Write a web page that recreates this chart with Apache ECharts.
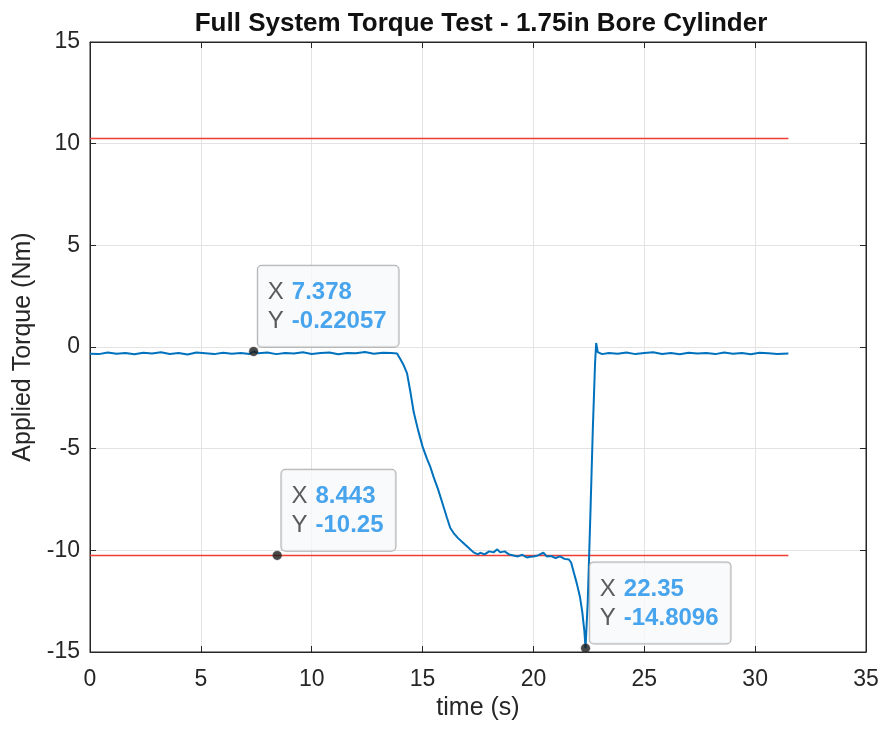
<!DOCTYPE html>
<html><head><meta charset="utf-8">
<script src="https://cdn.jsdelivr.net/npm/echarts@6/dist/echarts.min.js"></script>
<style>html,body{margin:0;padding:0;background:#fff}#c{width:884px;height:730px}</style>
</head><body><div id="c"></div>
<script>
const titleText = 'Full System Torque Test - 1.75in Bore Cylinder';
const xName = 'time (s)';
const yName = 'Applied Torque (Nm)';
const xTicks = [0, 5, 10, 15, 20, 25, 30, 35];
const yTicks = [-15, -10, -5, 0, 5, 10, 15];

const timeS = [
 0,0.4,0.8,1.2,1.6,2.0,2.4,2.8,3.2,3.6,4.0,4.4,4.8,5.2,5.6,6.0,6.4,6.8,7.2,7.378,7.6,8.0,8.4,8.8,9.2,9.6,10.0,10.4,10.8,11.2,11.6,12.0,12.4,12.8,13.2,13.6,13.85,
 14.0,14.15,14.3,14.45,14.6,14.8,15.0,15.2,15.35,15.5,15.7,15.9,16.1,16.25,16.4,16.6,16.85,17.05,17.3,17.5,17.6,17.8,18.0,18.2,18.37,18.5,18.7,18.9,19.1,19.3,19.5,19.7,19.86,20.0,20.2,20.45,20.6,20.8,21.0,21.2,21.4,21.6,21.7,21.8,21.95,22.1,22.2,22.3,22.35,
 22.45,22.57,22.68,22.78,22.83,22.9,23.1,23.4,23.8,24.2,24.6,25.0,25.4,25.8,26.2,26.6,27.0,27.4,27.8,28.2,28.6,29.0,29.4,29.8,30.2,30.6,31.0,31.5
];
const torqueNm = [
 -0.33,-0.35,-0.27,-0.33,-0.29,-0.36,-0.28,-0.32,-0.26,-0.34,-0.30,-0.37,-0.27,-0.31,-0.35,-0.28,-0.33,-0.29,-0.34,-0.22057,-0.31,-0.27,-0.35,-0.29,-0.32,-0.26,-0.34,-0.30,-0.27,-0.36,-0.29,-0.31,-0.25,-0.33,-0.28,-0.30,-0.32,
 -0.6,-0.9,-1.3,-2.2,-3.2,-4.1,-4.9,-5.5,-5.9,-6.4,-7.0,-7.7,-8.4,-8.9,-9.15,-9.4,-9.65,-9.85,-10.1,-10.2,-10.12,-10.2,-10.05,-10.1,-9.95,-10.1,-10.05,-10.2,-10.25,-10.3,-10.22,-10.35,-10.32,-10.3,-10.25,-10.12,-10.3,-10.28,-10.38,-10.3,-10.42,-10.45,-10.6,-11.0,-11.6,-12.3,-13.0,-14.0,-14.8096,
 -12.5,-8.2,-4.0,-0.8,0.2,-0.25,-0.35,-0.29,-0.33,-0.27,-0.35,-0.30,-0.26,-0.34,-0.29,-0.36,-0.28,-0.32,-0.30,-0.35,-0.27,-0.33,-0.29,-0.36,-0.28,-0.31,-0.34,-0.32
];
const limitLevels = [10.25, -10.25];
const limitSpan = [0, 31.5];
const tipX = [7.378, 8.443, 22.35];
const tipY = [-0.22057, -10.25, -14.8096];
const tipXText = ['7.378', '8.443', '22.35'];
const tipYText = ['-0.22057', '-10.25', '-14.8096'];

const font = '"Liberation Sans", Arial, Helvetica, sans-serif';
const axisColor = '#262626';
const chart = echarts.init(document.getElementById('c'));

const mainData = timeS.map((t, i) => [t, torqueNm[i]]);
const limitSeries = limitLevels.map(v => ({
  type: 'line', data: limitSpan.map(t => [t, v]), symbol: 'none', silent: true,
  lineStyle: { color: '#ee3b33', width: 1.5 }, z: 3, animation: false
}));
const tickStyle = { inside: true, length: 6, lineStyle: { color: axisColor } };
const lineStyleAxis = { show: true, onZero: false, lineStyle: { color: axisColor, width: 1 } };

chart.setOption({
  animation: false,
  title: { text: titleText, left: 476, textAlign: 'center', top: 6,
    textStyle: { fontFamily: font, fontSize: 26, fontWeight: 'bold', color: '#111' } },
  grid: { left: 90, right: 18, top: 42, bottom: 78, show: true, borderColor: axisColor, borderWidth: 1, backgroundColor: '#fff' },
  xAxis: [{
    type: 'value', min: 0, max: 35, interval: 5, name: xName, nameLocation: 'middle', nameGap: 44,
    nameTextStyle: { fontFamily: font, fontSize: 25, color: axisColor },
    axisLine: lineStyleAxis,
    axisTick: tickStyle,
    axisLabel: { fontFamily: font, fontSize: 23, color: axisColor, margin: 16,
      formatter: v => xTicks.includes(v) ? String(v) : '' },
    splitLine: { lineStyle: { color: '#e3e3e3' } }
  }, {
    type: 'value', min: 0, max: 35, interval: 5, position: 'top',
    axisLine: lineStyleAxis,
    axisTick: tickStyle,
    axisLabel: { show: false }, splitLine: { show: false }
  }],
  yAxis: [{
    type: 'value', min: -15, max: 15, interval: 5, name: yName, nameLocation: 'middle', nameGap: 52,
    nameTextStyle: { fontFamily: font, fontSize: 25, color: axisColor },
    axisLine: lineStyleAxis,
    axisTick: Object.assign({ show: true }, tickStyle),
    axisLabel: { fontFamily: font, fontSize: 23, color: axisColor, margin: 10,
      formatter: v => yTicks.includes(v) ? String(v) : '' },
    splitLine: { lineStyle: { color: '#e3e3e3' } }
  }, {
    type: 'value', min: -15, max: 15, interval: 5, position: 'right',
    axisLine: lineStyleAxis,
    axisTick: Object.assign({ show: true }, tickStyle),
    axisLabel: { show: false }, splitLine: { show: false }
  }],
  series: [
    ...limitSeries,
    { type: 'line', data: mainData, symbol: 'none', z: 4,
      lineStyle: { color: '#0072BD', width: 2 } },
    { type: 'scatter', z: 10, symbolSize: 9,
      itemStyle: { color: '#1a1a1a', borderColor: '#555', borderWidth: 0.5 },
      data: tipX.map((x, i) => ({ value: [x, tipY[i]],
        label: { show: true, position: [9, 0], align: 'left', verticalAlign: 'bottom',
          formatter: '{l|X}{v|' + tipXText[i] + '}\n{l|Y}{v|' + tipYText[i] + '}',
          backgroundColor: '#f8f9fb', borderColor: '#9a9a9a', borderWidth: 1, borderRadius: 4,
          padding: [12, 12, 11, 10],
          rich: {
            l: { fontFamily: font, fontSize: 24, color: '#333', lineHeight: 29, width: 24 },
            v: { fontFamily: font, fontSize: 24, fontWeight: 'bold', color: '#1a8fe8', lineHeight: 29 }
          } } }))
    }
  ]
});
</script></body></html>
